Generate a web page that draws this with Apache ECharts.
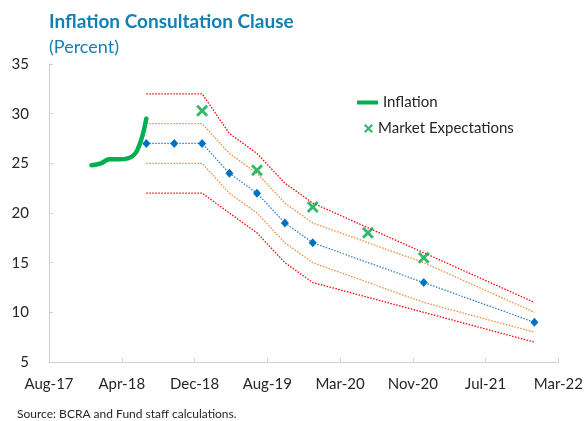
<!DOCTYPE html>
<html>
<head>
<meta charset="utf-8">
<script src="https://cdn.jsdelivr.net/npm/echarts@6/dist/echarts.min.js"></script>
<style>
	html, body { margin: 0; padding: 0; background: #fff; }
	#chart { width: 586px; height: 421px; }
</style>
</head>
<body>
<div id="chart"></div>
<script>
	// x axis: Excel-style day serials, ticks every 240 days from 13 Aug 2017
	const xMin = 42960
	const xStep = 240
	const tickLabels = ['Aug-17', 'Apr-18', 'Dec-18', 'Aug-19', 'Mar-20', 'Nov-20', 'Jul-21', 'Mar-22']

	// actual 12-month inflation
	const inflationDates = ['2017-12-31', '2018-01-31', '2018-02-28', '2018-03-31', '2018-04-30', '2018-05-31', '2018-06-30']
	const inflationValues = [24.8, 25.0, 25.4, 25.4, 25.5, 26.3, 29.5]

	// consultation clause path and bands
	const clauseDates = ['2018-06-30', '2018-09-30', '2018-12-31', '2019-03-31', '2019-06-30', '2019-09-30', '2019-12-31', '2020-12-31', '2021-12-31']
	const centralPath = [27, 27, 27, 24, 22, 19, 17, 13, 9]
	const innerUpper = [29, 29, 29, 26, 24, 21, 19, 15, 10]
	const innerLower = [25, 25, 25, 22, 20, 17, 15, 11, 8]
	const outerUpper = [32, 32, 32, 28, 26, 23, 21, 16, 11]
	const outerLower = [22, 22, 22, 20, 18, 15, 13, 10, 7]

	// market expectations
	const expectDates = ['2018-12-31', '2019-06-30', '2019-12-31', '2020-06-30', '2020-12-31']
	const expectValues = [30.3, 24.3, 20.6, 18.0, 15.5]

	function serial (s) {
		const p = s.split('-').map(Number)
		return (Date.UTC(p[0], p[1] - 1, p[2]) - Date.UTC(1899, 11, 30)) / 86400000
	}
	function pairs (dates, vals) {
		return dates.map((d, i) => [serial(d), vals[i]])
	}

	const font = 'Lato'
	const txt = '#262626'
	const crossIcon = 'path://M0,1.7L1.7,0L5,3.3L8.3,0L10,1.7L6.7,5L10,8.3L8.3,10L5,6.7L1.7,10L0,8.3L3.3,5Z'

	function band (name, vals, color) {
		return {
			name: name,
			type: 'line',
			data: pairs(clauseDates, vals),
			showSymbol: false,
			symbol: 'none',
			lineStyle: { color: color, width: 1.3, type: [1.5, 1.5] },
			z: 2
		}
	}

	const myChart = echarts.init(document.getElementById('chart'), null, { renderer: 'canvas' })
	myChart.setOption({
		animation: false,
		textStyle: { fontFamily: font },
		title: {
			text: 'Inflation Consultation Clause',
			subtext: '(Percent)',
			left: 49,
			top: 12,
			itemGap: 7,
			padding: 0,
			textStyle: { fontFamily: font, fontWeight: 'bold', fontSize: 19, color: '#1380b3' },
			subtextStyle: { fontFamily: font, fontSize: 18, color: '#1380b3' }
		},
		legend: [
			{
				data: [{ name: 'Inflation', icon: 'rect' }],
				left: 357,
				top: 95,
				padding: 0,
				itemWidth: 21,
				itemHeight: 4,
				textStyle: { fontFamily: font, fontSize: 15, color: txt }
			},
			{
				data: [{ name: 'Market Expectations', icon: crossIcon }],
				left: 364,
				top: 121,
				padding: 0,
				itemWidth: 9,
				itemHeight: 9,
				textStyle: { fontFamily: font, fontSize: 15, color: txt }
			}
		],
		grid: { left: 49, right: 26, top: 64, bottom: 59 },
		xAxis: {
			type: 'value',
			min: xMin,
			max: xMin + xStep * (tickLabels.length - 1),
			interval: xStep,
			splitLine: { show: false },
			axisLine: { lineStyle: { color: '#d0d0d0' } },
			axisTick: { inside: true, length: 4, lineStyle: { color: '#d0d0d0' } },
			axisLabel: {
				margin: 15,
				fontFamily: font,
				fontSize: 15,
				color: txt,
				formatter: v => tickLabels[Math.round((v - xMin) / xStep)]
			}
		},
		yAxis: {
			type: 'value',
			min: 5,
			max: 35,
			interval: 5,
			splitLine: { show: false },
			axisLine: { show: true, lineStyle: { color: '#d0d0d0' } },
			axisTick: { show: true, inside: true, length: 4, lineStyle: { color: '#d0d0d0' } },
			axisLabel: { margin: 20, fontFamily: font, fontSize: 15, color: txt }
		},
		series: [
			band('outerUpper', outerUpper, '#ff0000'),
			band('outerLower', outerLower, '#ff0000'),
			band('innerUpper', innerUpper, '#f08a3c'),
			band('innerLower', innerLower, '#f08a3c'),
			{
				name: 'Central path',
				type: 'line',
				data: pairs(clauseDates, centralPath),
				symbol: 'diamond',
				symbolSize: [8, 9],
				itemStyle: { color: '#0070c0' },
				lineStyle: { color: '#2f7fc8', width: 1.3, type: [1.5, 1.5] },
				z: 3
			},
			{
				name: 'Inflation',
				type: 'line',
				data: pairs(inflationDates, inflationValues),
				smooth: 0.4,
				showSymbol: false,
				symbol: 'none',
				itemStyle: { color: '#00b050' },
				lineStyle: { color: '#00b050', width: 4.5, cap: 'round' },
				z: 4
			},
			{
				name: 'Market Expectations',
				type: 'scatter',
				data: pairs(expectDates, expectValues),
				symbol: crossIcon,
				symbolSize: 12,
				itemStyle: { color: '#00a84a' },
				z: 5
			}
		],
		graphic: [
			{
				type: 'text',
				left: 17,
				top: 408,
				style: { text: 'Source: BCRA and Fund staff calculations.', fontFamily: font, fontSize: 12, fill: txt }
			}
		]
	})
</script>
</body>
</html>
